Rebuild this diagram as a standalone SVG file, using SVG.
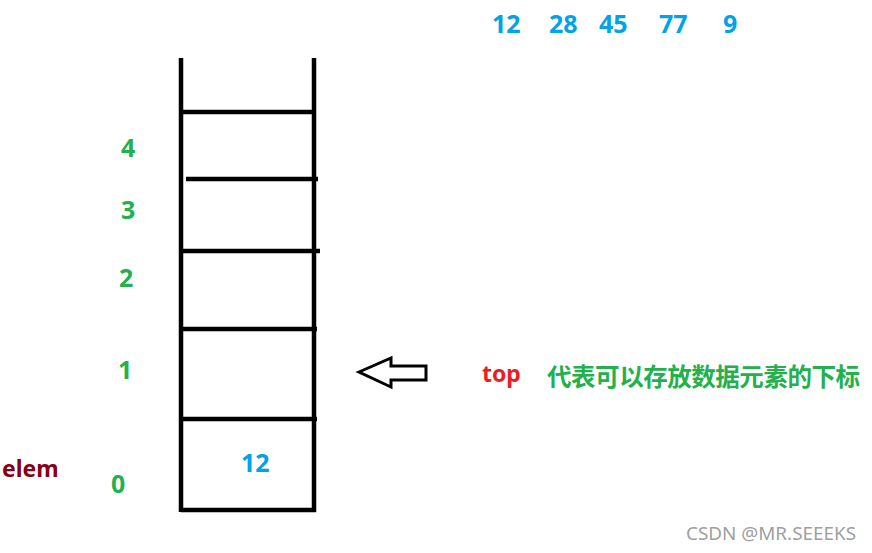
<svg xmlns="http://www.w3.org/2000/svg" width="872" height="553" viewBox="0 0 872 553">
<style>
.ln{stroke:#000;stroke-width:4.5;fill:none;stroke-linecap:butt}
.t{font-family:"Noto Sans","Noto Sans CJK SC",sans-serif;font-weight:bold}
.g{fill:#22b14c}
.b{fill:#00a2e8}
</style>
<rect width="872" height="553" fill="#fff"/>
<g id="stack">
<path class="ln" d="M181 58V512M314 58V512M181 510H316"/>
<path class="ln" d="M181 112H314M186 179H318M181 251H320M181 329H317M181 419H317"/>
</g>
<g id="indices">
<text class="t g" x="121" y="157" font-size="25">4</text>
<text class="t g" x="121" y="219" font-size="25">3</text>
<text class="t g" x="119" y="287" font-size="25">2</text>
<text class="t g" x="118" y="379" font-size="25">1</text>
<text class="t g" x="111" y="493" font-size="25">0</text>
</g>
<g id="elem-label">
<text class="t" x="2" y="477" font-size="23" fill="#880015">elem</text>
</g>
<g id="cell0-value">
<text class="t b" x="241" y="472" font-size="25">12</text>
</g>
<g id="values">
<text class="t b" x="492" y="33" font-size="25">12</text>
<text class="t b" x="549" y="33" font-size="25">28</text>
<text class="t b" x="599" y="33" font-size="25">45</text>
<text class="t b" x="659" y="33" font-size="25">77</text>
<text class="t b" x="723" y="33" font-size="25">9</text>
</g>
<g id="connectors">
<polygon points="359,372 391,358 391,366 426,366 426,380 391,380 391,387" fill="none" stroke="#000" stroke-width="3" stroke-linejoin="miter"/>
</g>
<g id="top-label">
<text class="t" x="482" y="382" font-size="23" fill="#ed1c24">top</text>
<text class="t g" x="547" y="386" font-size="24.5" textLength="313" lengthAdjust="spacing">代表可以存放数据元素的下标</text>
</g>
<g id="watermark">
<text x="686" y="540" font-family="Noto Sans, sans-serif" font-size="18" fill="#a0a0a0" textLength="170" lengthAdjust="spacingAndGlyphs">CSDN @MR.SEEEKS</text>
</g>
</svg>
